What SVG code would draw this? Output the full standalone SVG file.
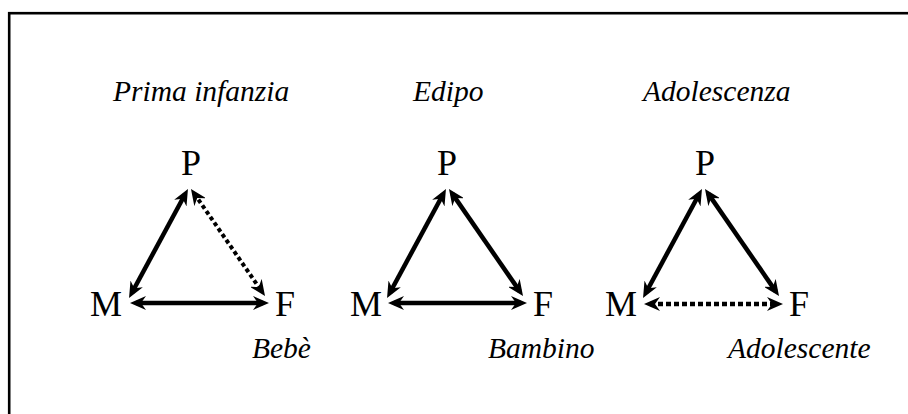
<svg xmlns="http://www.w3.org/2000/svg" width="908" height="414" viewBox="0 0 908 414">
<style>
.t{font-family:"Liberation Serif","Times New Roman",serif;font-style:italic;font-size:29.5px;fill:#000}
.n{font-family:"Liberation Serif","Times New Roman",serif;font-size:36px;fill:#000}
.c{stroke:#000;stroke-width:4.5;fill:none;marker-start:url(#ah);marker-end:url(#ah)}
.d{stroke-dasharray:4 3;stroke-width:4}
.d2{stroke-dasharray:5 3}
</style>
<defs>
<marker id="ah" markerUnits="userSpaceOnUse" viewBox="0 0 16 14" markerWidth="16" markerHeight="14" refX="10" refY="7" orient="auto-start-reverse">
<path d="M0,0 L16,7 L0,14 L5,7 Z" fill="#000"/>
</marker>
</defs>
<rect x="0" y="0" width="908" height="414" fill="#fff"/>
<rect x="9.2" y="13.2" width="930" height="440" fill="none" stroke="#000" stroke-width="2.6"/>
<g id="titles">
<text class="t" x="113" y="101">Prima infanzia</text>
<text class="t" x="413" y="101">Edipo</text>
<text class="t" x="643" y="101">Adolescenza</text>
</g>
<g id="node-P1"><text class="n" x="191" y="175" text-anchor="middle">P</text></g>
<g id="node-M1"><text class="n" x="122" y="316" text-anchor="end">M</text></g>
<g id="node-F1"><text class="n" x="275" y="316">F</text></g>
<g id="node-P2"><text class="n" x="447" y="175" text-anchor="middle">P</text></g>
<g id="node-M2"><text class="n" x="382" y="316" text-anchor="end">M</text></g>
<g id="node-F2"><text class="n" x="533" y="316">F</text></g>
<g id="node-P3"><text class="n" x="705" y="175" text-anchor="middle">P</text></g>
<g id="node-M3"><text class="n" x="637" y="316" text-anchor="end">M</text></g>
<g id="node-F3"><text class="n" x="789" y="316">F</text></g>
<g id="labels">
<text class="t" x="252" y="358">Bebè</text>
<text class="t" x="488" y="358">Bambino</text>
<text class="t" x="728" y="358">Adolescente</text>
</g>
<g id="connectors">
<line class="c" x1="185.1" y1="194.3" x2="131.9" y2="292.7"/>
<line class="c d" x1="194.4" y1="193.9" x2="261.6" y2="291.1"/>
<line class="c" x1="136" y1="303" x2="263" y2="303"/>
<line class="c" x1="443.1" y1="194.3" x2="389.9" y2="292.7"/>
<line class="c" x1="452.4" y1="193.9" x2="519.6" y2="291.1"/>
<line class="c" x1="394" y1="303" x2="521" y2="303"/>
<line class="c" x1="699.1" y1="194.3" x2="645.9" y2="292.7"/>
<line class="c" x1="708.4" y1="193.9" x2="775.6" y2="291.1"/>
<line class="c d2" x1="650" y1="304" x2="777" y2="304"/>
</g>
</svg>
